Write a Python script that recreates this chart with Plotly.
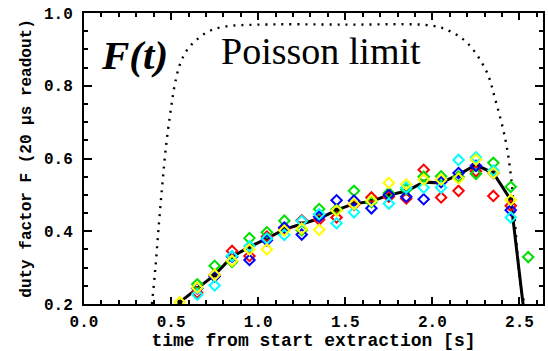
import plotly.graph_objects as go

# ---- data ----
x_pts = [0.55, 0.65, 0.75, 0.85, 0.95, 1.05, 1.15, 1.25, 1.35, 1.45, 1.55,
         1.65, 1.75, 1.85, 1.95, 2.05, 2.15, 2.25, 2.35, 2.45, 2.55]
mean_F = [0.205, 0.242, 0.28, 0.33, 0.357, 0.38, 0.405, 0.42, 0.435, 0.458, 0.476,
          0.482, 0.50, 0.51, 0.535, 0.533, 0.556, 0.582, 0.56, 0.486, 0.08]
red_F = [None, 0.231, 0.28, 0.346, 0.332, 0.385, 0.407, 0.43, 0.432, 0.438, 0.473,
         0.493, 0.495, 0.49, 0.569, 0.493, 0.511, 0.565, 0.497, 0.47, None]
green_F = [None, 0.254, 0.305, 0.316, 0.381, 0.397, 0.429, 0.403, 0.461, 0.46, 0.511,
           0.48, 0.505, 0.515, 0.55, 0.551, 0.55, 0.558, 0.588, 0.522, 0.329]
blue_F = [None, 0.243, 0.276, 0.33, 0.321, 0.375, 0.41, 0.391, 0.44, 0.485, 0.484,
          0.463, 0.50, 0.495, 0.488, 0.535, 0.56, 0.58, 0.56, 0.458, None]
cyan_F = [None, 0.226, 0.251, 0.332, 0.359, 0.38, 0.39, 0.428, 0.447, 0.422, 0.452,
          0.484, 0.476, 0.52, 0.52, 0.52, 0.596, 0.603, 0.567, 0.438, None]
yellow_F = [0.205, 0.245, 0.28, 0.319, 0.35, 0.35, 0.402, 0.407, 0.404, 0.457, 0.475,
            0.484, 0.533, 0.529, 0.542, 0.542, 0.545, 0.597, 0.56, 0.486, None]

poisson_t = [0.39, 0.41, 0.43, 0.45, 0.47, 0.50, 0.52, 0.55, 0.594, 0.646, 0.71, 0.80,
             1.0, 1.5, 2.0, 2.1, 2.2, 2.31, 2.36, 2.42, 2.45, 2.47, 2.49, 2.51, 2.53]
poisson_F = [0.2, 0.3, 0.42, 0.53, 0.63, 0.74, 0.80, 0.858, 0.90, 0.926, 0.948, 0.962,
             0.968, 0.968, 0.965, 0.95, 0.918, 0.84, 0.764, 0.65, 0.555, 0.45, 0.33, 0.24, 0.2]

series = [("red", red_F), ("#00e000", green_F), ("blue", blue_F),
          ("cyan", cyan_F), ("yellow", yellow_F)]

fig = go.Figure()

fig.add_trace(go.Scatter(x=poisson_t, y=poisson_F, mode="lines",
                         line=dict(color="black", width=2.4, dash="2px,6px", shape="spline"),
                         showlegend=False))

fig.add_trace(go.Scatter(x=x_pts, y=mean_F, mode="lines+markers",
                         line=dict(color="black", width=3),
                         marker=dict(symbol="square", size=5, color="black"),
                         showlegend=False))

for col, vals in series:
    fig.add_trace(go.Scatter(x=x_pts, y=vals, mode="markers",
                             marker=dict(symbol="diamond-open", size=8, color=col,
                                         line=dict(width=2, color=col)),
                             showlegend=False))

fig.update_layout(
    width=548, height=351,
    margin=dict(l=84, r=3, t=13, b=43),
    plot_bgcolor="white", paper_bgcolor="white",
    xaxis=dict(range=[0, 2.635], tick0=0, dtick=0.5, tickformat=".1f",
               ticks="inside", ticklen=7, tickwidth=2, tickcolor="black",
               minor=dict(dtick=0.1, ticks="inside", ticklen=4, tickwidth=1.5, tickcolor="black"),
               showline=True, linecolor="black", linewidth=2, mirror="ticks",
               showgrid=False, zeroline=False, ticklabelstandoff=2,
               tickfont=dict(family="Liberation Mono", size=16, color="black", weight="bold"),
               title=dict(text="time from start extraction [s]",
                          font=dict(family="Liberation Mono", size=18, color="black", weight="bold"),
                          standoff=3)),
    yaxis=dict(range=[0.2, 1.0], tick0=0.2, dtick=0.2, tickformat=".1f",
               ticks="inside", ticklen=8, tickwidth=2, tickcolor="black",
               minor=dict(dtick=0.05, ticks="inside", ticklen=4, tickwidth=1.5, tickcolor="black"),
               showline=True, linecolor="black", linewidth=2, mirror="ticks",
               showgrid=False, zeroline=False, ticklabelstandoff=6,
               tickfont=dict(family="Liberation Mono", size=16, color="black", weight="bold"),
               title=dict(text="duty factor F (20 μs readout)",
                          font=dict(family="Liberation Mono", size=16, color="black", weight="bold"),
                          standoff=8)),
)

fig.add_annotation(text="<b><i>F(t)</i></b>", xref="paper", yref="paper",
                   x=0.11, y=0.855, xanchor="center", yanchor="middle", showarrow=False,
                   font=dict(family="Liberation Serif", size=41, color="black"))
fig.add_annotation(text="Poisson limit", xref="paper", yref="paper",
                   x=0.516, y=0.87, xanchor="center", yanchor="middle", showarrow=False,
                   font=dict(family="Liberation Serif", size=38, color="black"))

fig.write_html("out.html")
